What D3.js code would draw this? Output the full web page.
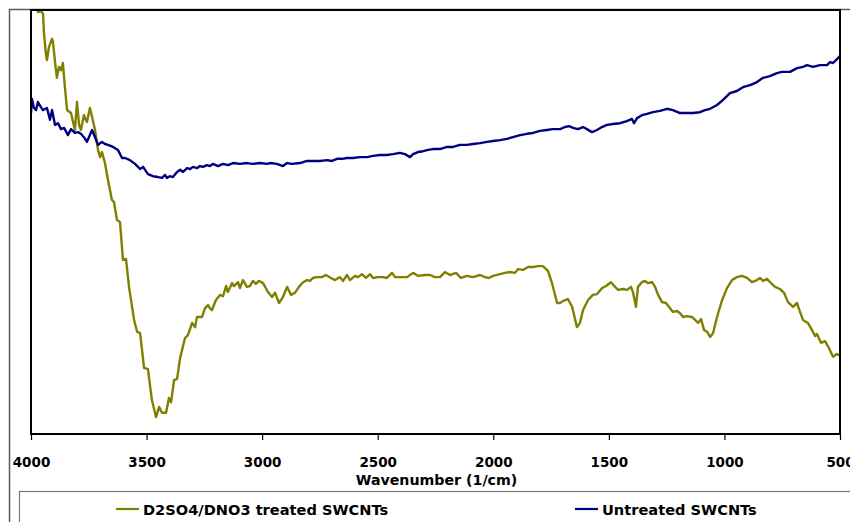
<!DOCTYPE html>
<html>
<head>
<meta charset="utf-8">
<script src="https://cdn.jsdelivr.net/npm/d3@7"></script>
<style>
  body { margin: 0; background: #fff; }
  svg { display: block; }
  text { font-family: "DejaVu Sans", sans-serif; font-weight: bold; fill: #000; }
</style>
</head>
<body>
<svg id="canvas"></svg>
<script>
// wavenumber (1/cm) and relative transmittance
let treatedWn = [3978,3970,3957,3948,3944,3935,3931,3922,3909,3905,3896,3888,3879,3870,3862,3853,3844,3827,3818,3810,
  3801,3792,3784,3771,3758,3745,3736,3723,3710,3701,3693,3680,3667,3650,3641,3628,3615,3602,3589,3576,
  3554,3541,3528,3511,3494,3477,3459,3446,3433,3416,3403,3394,3381,3368,3355,3334,3321,3303,3290,3282,
  3260,3247,3234,3226,3217,3200,3182,3169,3156,3148,3130,3122,3104,3096,3083,3066,3053,3040,3027,3014,
  2996,2975,2957,2944,2927,2910,2892,2875,2858,2841,2823,2806,2793,2780,2763,2741,2724,2702,2685,2663,
  2650,2633,2620,2598,2585,2568,2551,2533,2520,2499,2477,2460,2438,2425,2404,2373,2347,2326,2295,2274,
  2252,2231,2209,2187,2161,2140,2114,2088,2057,2036,2019,2001,1971,1949,1928,1906,1893,1871,1850,1828,
  1807,1785,1763,1746,1724,1711,1698,1677,1659,1638,1625,1612,1590,1569,1551,1530,1512,1491,1473,1460,
  1439,1421,1404,1395,1383,1374,1357,1344,1331,1313,1300,1287,1270,1253,1236,1223,1205,1192,1179,1162,
  1140,1127,1114,1101,1088,1075,1062,1049,1032,1010,989,967,946,924,902,881,859,846,833,816,
  799,781,760,742,725,703,686,673,660,639,621,608,600,582,565,548,530,513,500];
let treatedT = [103.5,99.5,99.8,99.1,94.6,89.4,88.2,91.3,93.2,92.5,87.7,84.0,86.6,85.8,87.5,81.6,76.4,75.7,73.6,71.7,
  78.3,72.9,71.7,75.2,73.6,76.9,74.8,71.7,67.0,65.3,66.5,63.9,59.9,55.2,54.7,50.5,50.0,41.0,41.3,34.7,
  26.9,24.1,23.8,15.6,15.3,8.0,4.0,6.4,5.0,5.0,8.5,7.5,12.7,13.0,17.9,22.6,23.3,26.2,25.2,27.6,
  27.6,29.7,30.4,29.7,29.2,31.6,32.8,32.5,34.9,33.5,35.6,34.9,35.8,34.4,36.3,34.7,34.9,36.1,35.4,36.1,
  35.6,33.5,32.3,33.3,30.9,32.3,34.7,32.8,33.3,34.7,35.8,36.3,36.1,36.8,37.0,37.0,37.5,36.8,36.3,37.0,
  36.1,37.5,36.3,37.3,37.0,37.7,36.8,37.7,36.8,37.0,37.0,36.8,38.0,37.0,37.0,37.0,38.0,37.3,37.5,37.5,
  37.0,37.0,38.2,37.5,38.0,36.8,37.3,37.0,37.5,37.0,36.8,37.3,37.7,38.0,38.2,38.0,38.9,38.7,39.4,39.4,
  39.6,39.6,38.4,35.6,30.9,30.9,31.4,31.8,30.0,25.2,26.2,29.2,31.6,32.8,33.0,34.4,34.9,35.8,34.7,34.0,
  34.2,34.0,34.7,33.3,30.0,34.7,35.8,36.1,35.6,35.8,34.7,32.8,31.1,30.9,29.7,28.8,29.0,28.5,27.6,27.8,
  27.6,26.9,26.2,27.1,24.5,24.1,22.9,23.8,27.6,31.6,34.4,36.3,37.0,37.3,36.8,35.8,36.3,36.8,36.1,36.6,
  35.6,34.7,34.2,33.3,31.1,30.0,30.9,28.8,26.9,26.2,24.5,23.1,23.6,21.5,21.9,20.3,18.2,18.9,18.4];

let untreatedWn = [4000,3996,3987,3978,3970,3957,3948,3931,3918,3909,3896,3883,3870,3857,3840,3827,3810,3797,3784,3771,
  3758,3736,3723,3710,3693,3680,3667,3645,3624,3606,3593,3572,3550,3528,3515,3494,3472,3451,3433,3420,
  3412,3399,3386,3368,3355,3342,3325,3312,3299,3282,3269,3256,3239,3226,3213,3191,3169,3148,3126,3096,
  3066,3040,3009,2979,2966,2936,2910,2892,2871,2836,2806,2780,2750,2719,2698,2676,2655,2633,2607,2577,
  2546,2520,2490,2460,2434,2404,2382,2360,2347,2326,2304,2282,2261,2231,2200,2174,2144,2114,2088,2057,
  2027,2001,1971,1941,1915,1884,1854,1828,1798,1768,1742,1711,1690,1672,1655,1634,1612,1595,1573,1551,
  1530,1508,1482,1452,1422,1400,1391,1378,1357,1335,1309,1279,1248,1223,1192,1162,1136,1106,1084,1062,
  1032,1006,976,946,920,889,859,833,803,773,751,716,686,660,643,617,587,556,543,530,513,500];
let untreatedT = [75.7,79.0,76.9,76.4,78.3,77.1,76.4,76.9,74.1,76.4,72.9,73.3,71.9,72.2,70.5,71.9,71.0,71.2,70.8,70.0,
  68.9,71.7,70.0,68.2,68.9,68.4,68.2,67.7,67.0,65.1,65.1,64.6,63.7,62.5,63.0,61.3,60.8,60.6,60.4,61.1,
  60.4,60.8,60.6,61.8,62.3,61.8,62.7,62.5,63.0,62.7,63.2,63.0,63.4,63.2,63.7,63.2,63.7,63.4,63.9,63.7,
  63.9,63.7,63.9,63.7,63.9,63.7,63.2,63.9,63.7,63.9,64.4,64.4,64.4,64.6,64.4,64.9,64.9,65.1,65.1,65.3,
  65.3,65.6,65.8,65.8,66.0,66.3,66.0,65.3,66.0,66.5,66.7,67.0,67.2,67.2,67.7,67.7,68.2,68.2,68.4,68.6,
  68.9,69.1,69.3,69.6,70.0,70.5,70.8,71.0,71.5,71.7,71.9,71.9,72.4,72.6,72.2,71.9,72.4,71.9,71.2,71.7,
  72.4,72.9,73.1,73.3,73.8,74.3,73.3,74.5,75.2,75.5,75.9,76.2,76.7,76.4,75.7,75.7,75.7,75.9,76.4,76.7,
  77.6,78.8,80.4,80.9,81.8,82.3,83.0,84.0,84.4,85.1,85.4,85.4,86.3,86.6,87.0,86.6,87.0,87.0,87.7,87.5,88.4,89.2];

let xTicks = [4000, 3500, 3000, 2500, 2000, 1500, 1000, 500];
let seriesNames = ["D2SO4/DNO3 treated SWCNTs", "Untreated SWCNTs"];
let seriesColors = ["#808000", "#000080"];

let width = 850;
let height = 522;
let plotLeft = 31;
let plotRight = 840;
let plotTop = 10;
let plotBottom = 434;

let canvas = d3.select("#canvas").attr("width", width).attr("height", height);

let xScale = d3.scaleLinear().domain([4000, 500]).range([plotLeft, plotRight]);
let yScale = d3.scaleLinear().domain([0, 100]).range([plotBottom, plotTop]);

// outer chart frame
canvas.append("rect")
  .attr("x", 9.5).attr("y", 9.5)
  .attr("width", 900).attr("height", 600)
  .attr("fill", "none").attr("stroke", "#5a5a5a").attr("stroke-width", 1.5);

canvas.append("clipPath").attr("id", "plot-clip")
  .append("rect")
  .attr("x", plotLeft).attr("y", plotTop)
  .attr("width", plotRight - plotLeft).attr("height", plotBottom - plotTop);

let line = d3.line()
  .x((d) => xScale(d[0]))
  .y((d) => yScale(d[1]));

let series = [
  d3.zip(treatedWn, treatedT),
  d3.zip(untreatedWn, untreatedT)
];

canvas.append("g")
  .attr("clip-path", "url(#plot-clip)")
  .selectAll("path")
  .data(series)
  .enter()
  .append("path")
  .attr("d", (d) => line(d))
  .attr("fill", "none")
  .attr("stroke", (d, i) => seriesColors[i])
  .attr("stroke-width", 2.4)
  .attr("stroke-linejoin", "round");

// plot frame
canvas.append("rect")
  .attr("x", plotLeft).attr("y", plotTop)
  .attr("width", plotRight - plotLeft).attr("height", plotBottom - plotTop)
  .attr("fill", "none").attr("stroke", "#000").attr("stroke-width", 2);

let xAxis = d3.axisBottom(xScale)
  .tickValues(xTicks)
  .tickSize(6)
  .tickPadding(17)
  .tickFormat(d3.format("d"));

let axisG = canvas.append("g")
  .attr("id", "x-axis")
  .attr("transform", "translate(0, " + plotBottom + ")")
  .call(xAxis);
axisG.select(".domain").remove();
axisG.selectAll(".tick line").attr("stroke", "#000").attr("stroke-width", 1.2);
axisG.selectAll(".tick text")
  .attr("font-family", "DejaVu Sans")
  .attr("font-weight", "bold")
  .attr("font-size", 13.5);

canvas.append("text")
  .attr("x", (plotLeft + plotRight) / 2 + 1)
  .attr("y", 485)
  .attr("text-anchor", "middle")
  .attr("font-size", 14.2)
  .text("Wavenumber (1/cm)");

// legend
canvas.append("rect")
  .attr("x", 19.5).attr("y", 491.5)
  .attr("width", 900).attr("height", 100)
  .attr("fill", "none").attr("stroke", "#7a7a7a").attr("stroke-width", 1.2);

let legendX = [116, 575];
let legend = canvas.selectAll(".legend-item")
  .data(seriesNames)
  .enter()
  .append("g")
  .attr("class", "legend-item")
  .attr("transform", (d, i) => "translate(" + legendX[i] + ", 509)");

legend.append("line")
  .attr("x1", 0).attr("x2", 23)
  .attr("stroke", (d, i) => seriesColors[i])
  .attr("stroke-width", 2.2);

legend.append("text")
  .attr("x", 27)
  .attr("y", 5.5)
  .attr("font-size", 14.6)
  .text((d) => d);
</script>
</body>
</html>
